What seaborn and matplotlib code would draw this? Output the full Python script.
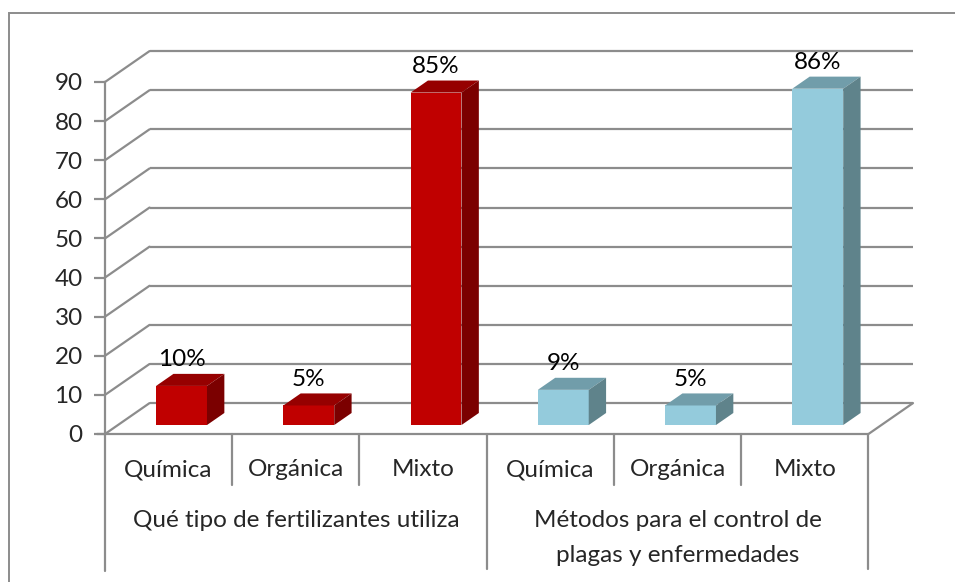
import matplotlib
matplotlib.use("Agg")
import matplotlib.pyplot as plt
from matplotlib.patches import Polygon, Rectangle
import seaborn as sns
import pandas as pd
import numpy as np

# data
categories = ["Química", "Orgánica", "Mixto", "Química ", "Orgánica ", "Mixto "]
tick_labels = ["Química", "Orgánica", "Mixto", "Química", "Orgánica", "Mixto"]
values = [10, 5, 85, 9, 5, 86]
value_labels = ["10%", "5%", "85%", "9%", "5%", "86%"]
groups = ["Qué tipo de fertilizantes utiliza",
          "Métodos para el control de\nplagas y enfermedades"]
yticks = list(range(0, 100, 10))

# colours (front, top, side)
red = ("#C00000", "#960000", "#7B0000")
blue = ("#94CBDC", "#719DAA", "#5F838B")
bar_colors = [red, red, red, blue, blue, blue]
grid_col = "#8C8C8C"

# oblique depth of the plot box (x in category units, y in value units)
DX, DY = 0.35, 7.9
# bar depth placement (front at f0, back at f1 of the box depth)
f0, f1 = 0.29, 0.68
bar_w = 0.4
FS = 17.5

sns.set_theme(style="white")
plt.rcParams["font.family"] = ["Lato", "DejaVu Sans"]

fig = plt.figure(figsize=(9.55, 5.82), dpi=100)
ax = fig.add_axes([105 / 955, (582 - 434) / 582, (913 - 105) / 955, 383.3 / 582])

df = pd.DataFrame({"cat": categories, "val": values})
sns.barplot(data=df, x="cat", y="val", order=categories, width=bar_w,
            palette=[c[0] for c in bar_colors], hue="cat", legend=False,
            saturation=1, ax=ax, zorder=3, linewidth=0)
ax.set_xlim(-0.5, 5.85)
ax.set_ylim(0, 98)

# back wall gridlines + left side diagonals
for t in yticks:
    ax.plot([-0.5 + DX, 5.5 + DX], [t + DY, t + DY], color=grid_col, lw=1.6,
            zorder=1, clip_on=False, solid_capstyle="butt")
    ax.plot([-0.5, -0.5 + DX], [t, t + DY], color=grid_col, lw=1.6,
            zorder=1, clip_on=False)
# floor front and right edges
ax.plot([-0.56, 5.5], [0, 0], color=grid_col, lw=1.6, zorder=1, clip_on=False)
ax.plot([5.5, 5.5 + DX], [0, DY], color=grid_col, lw=1.6, zorder=1, clip_on=False)

# shift front faces into depth and add top / side faces
ox0, oy0 = f0 * DX, f0 * DY
ox1, oy1 = (f1 - f0) * DX, (f1 - f0) * DY
for i, p in enumerate(ax.patches):
    v = values[i]
    p.set_x(p.get_x() + ox0)
    p.set_y(oy0)
    x0 = p.get_x()
    x1 = x0 + p.get_width()
    top = oy0 + v
    ax.add_patch(Polygon([(x0, top), (x1, top), (x1 + ox1, top + oy1),
                          (x0 + ox1, top + oy1)], closed=True,
                         facecolor=bar_colors[i][1], lw=0, zorder=3))
    ax.add_patch(Polygon([(x1, oy0), (x1 + ox1, oy0 + oy1),
                          (x1 + ox1, top + oy1), (x1, top)], closed=True,
                         facecolor=bar_colors[i][2], lw=0, zorder=3))
    ax.text((x0 + x1) / 2, top + oy1 + 1.0, value_labels[i], ha="center",
            va="bottom", fontsize=FS, color="black", zorder=4)

# y axis
for s in ["top", "right", "bottom"]:
    ax.spines[s].set_visible(False)
ax.spines["left"].set_color(grid_col)
ax.spines["left"].set_linewidth(1.6)
ax.spines["left"].set_bounds(0, 90)
ax.set_yticks(yticks)
ax.tick_params(axis="y", length=8, width=1.6, color=grid_col, labelsize=FS,
               pad=8, left=True)
ax.set_xticks([])
ax.set_xlabel("")
ax.set_ylabel("")

# category table below the floor
ax.plot([-0.5, -0.5], [0, -35.0], color=grid_col, lw=1.6, clip_on=False)
for xb in [0.5, 1.5, 3.5, 4.5]:
    ax.plot([xb, xb], [0, -13.0], color=grid_col, lw=1.6, clip_on=False)
for xb in [2.5, 5.5]:
    ax.plot([xb, xb], [0, -34.5], color=grid_col, lw=1.6, clip_on=False)
for i, lab in enumerate(tick_labels):
    ax.text(i, -9.2, lab, ha="center", va="center", fontsize=FS, clip_on=False)
ax.text(1, -22.0, groups[0], ha="center", va="center", fontsize=FS,
        clip_on=False)
ax.text(4, -26.6, groups[1], ha="center", va="center", fontsize=FS,
        linespacing=1.8, clip_on=False)

# outer chart border
fig.add_artist(Rectangle((9 / 955, -0.05), 1.2, 1 - 13 / 582 + 0.05,
                         transform=fig.transFigure, fill=False,
                         edgecolor="#8C8C8C", lw=1.4))

fig.savefig("out.png", dpi=100)
